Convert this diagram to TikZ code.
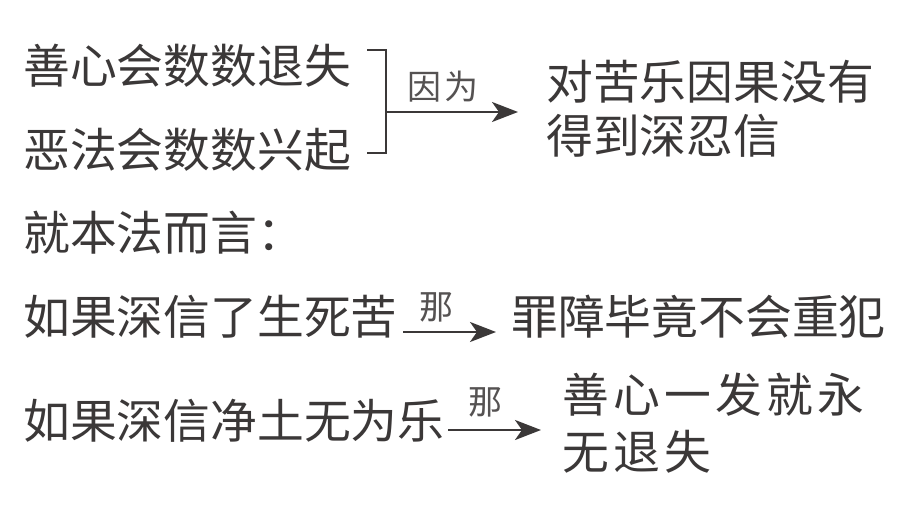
\documentclass[tikz,border=0pt]{standalone}
\usepackage{fontspec}
\setmainfont{Noto Sans CJK SC}
\usetikzlibrary{arrows.meta}
\definecolor{ink}{HTML}{3B3838}
\definecolor{note}{HTML}{555252}
\tikzset{
  txt/.style={font=\fontsize{46.8}{54}\selectfont, text=ink, inner sep=0pt, anchor=west, align=left},
  lbl/.style={font=\fontsize{34}{36}\selectfont, text=note, inner sep=0pt},
  arr/.style={line width=2.6pt, draw=ink, -{Stealth[length=26pt, width=20pt, inset=7pt]}},
  brack/.style={line width=2.6pt, draw=ink}
}
\begin{document}
\begin{tikzpicture}[x=1pt, y=-1pt]
\useasboundingbox (0,0) rectangle (901,516);
% top: two causes joined by a bracket
\node[txt] (shanA) at (23,66) {善心会数数退失};
\node[txt] (eA) at (23,150) {恶法会数数兴起};
\node[txt] (effA) at (546,109) {对苦乐因果没有\\得到深忍信};
\coordinate (bTop) at (367,50);
\coordinate (bBot) at (367,153);
\coordinate (bMid) at (386,112);
\coordinate (bEnd) at (518,112);
\draw[brack] (bTop) -| (bMid) |- (bBot);
\draw[arr] (bMid) -- (bEnd) node[lbl, pos=0.43, above=9pt] {因\hspace{3pt}为};
% this method
\node[txt] (fa) at (23,233) {就本法而言：};
% first case
\node[txt] (kuA) at (23,317) {如果深信了生死苦};
\node[txt] (zui) at (511,317) {罪障毕竟不会重犯};
\coordinate (aS) at (403,332);
\coordinate (aE) at (496,332);
\draw[arr] (aS) -- (aE) node[lbl, pos=0.36, above=9pt] {那};
% second case
\node[txt] (leA) at (23,421) {如果深信净土无为乐};
\node[txt, font=\fontsize{46.8}{57}\selectfont\addfontfeature{LetterSpace=9}] (effB) at (562,423) {善心一发就永\\无退失};
\coordinate (cS) at (448,430);
\coordinate (cE) at (541,430);
\draw[arr] (cS) -- (cE) node[lbl, pos=0.4, above=12pt] {那};
\end{tikzpicture}
\end{document}
